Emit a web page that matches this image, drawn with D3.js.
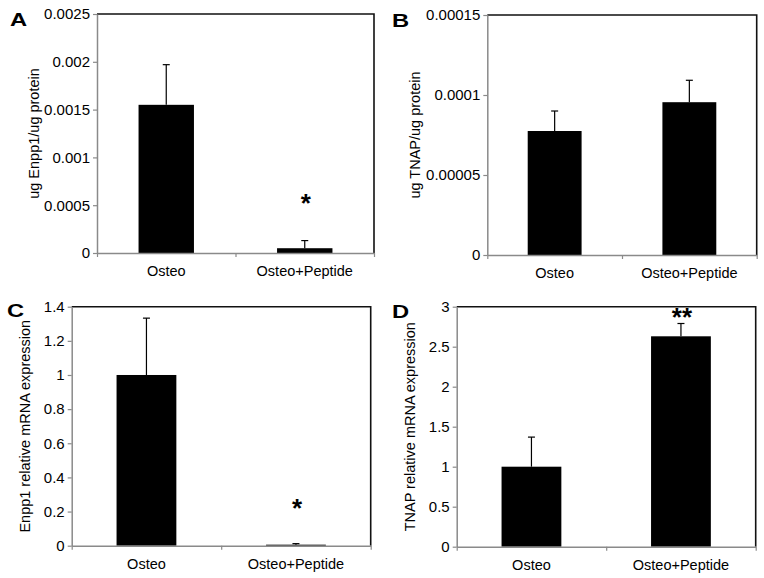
<!DOCTYPE html>
<html><head><meta charset="utf-8">
<script src="https://cdn.jsdelivr.net/npm/d3@7"></script>
<style>
html,body{margin:0;padding:0;background:#fff;}
svg{display:block;font-family:"Liberation Sans",Arial,sans-serif;}
</style></head>
<body>
<svg id="c" width="764" height="578"></svg>
<script>
const categories = ["Osteo", "Osteo+Peptide"];

const enppProtein = [0.00155, 0.00005];
const enppProteinErr = [0.00042, 0.00008];
const enppProteinTicks = [0, 0.0005, 0.001, 0.0015, 0.002, 0.0025];
const enppProteinTickLabels = ["0", "0.0005", "0.001", "0.0015", "0.002", "0.0025"];

const tnapProtein = [0.0000775, 0.0000955];
const tnapProteinErr = [0.0000125, 0.0000137];
const tnapProteinTicks = [0, 0.00005, 0.0001, 0.00015];
const tnapProteinTickLabels = ["0", "0.00005", "0.0001", "0.00015"];

const enppMrna = [1.0, 0.006];
const enppMrnaErr = [0.333, 0.006];
const enppMrnaTicks = [0, 0.2, 0.4, 0.6, 0.8, 1, 1.2, 1.4];
const enppMrnaTickLabels = ["0", "0.2", "0.4", "0.6", "0.8", "1", "1.2", "1.4"];

const tnapMrna = [1.0, 2.63];
const tnapMrnaErr = [0.37, 0.16];
const tnapMrnaTicks = [0, 0.5, 1, 1.5, 2, 2.5, 3];
const tnapMrnaTickLabels = ["0", "0.5", "1", "1.5", "2", "2.5", "3"];

const panelLetters = ["A", "B", "C", "D"];
const yTitles = ["ug Enpp1/ug protein", "ug TNAP/ug protein", "Enpp1 relative mRNA expression", "TNAP relative mRNA expression"];
const significance = [["", "*"], ["", ""], ["", "*"], ["", "**"]];

const panels = [
  {vals: enppProtein, errs: enppProteinErr, ticks: enppProteinTicks, tl: enppProteinTickLabels,
   x0: 97, x1: 374, y0: 14, y1: 253, titleX: 39, letterX: 10, letterY: 26, starY: [0, 212]},
  {vals: tnapProtein, errs: tnapProteinErr, ticks: tnapProteinTicks, tl: tnapProteinTickLabels,
   x0: 487.3, x1: 756.7, y0: 15, y1: 255, titleX: 420, letterX: 392, letterY: 27, starY: [0, 0]},
  {vals: enppMrna, errs: enppMrnaErr, ticks: enppMrnaTicks, tl: enppMrnaTickLabels,
   x0: 71.7, x1: 370.7, y0: 306.7, y1: 545.7, titleX: 30, letterX: 7, letterY: 317, starY: [0, 517]},
  {vals: tnapMrna, errs: tnapMrnaErr, ticks: tnapMrnaTicks, tl: tnapMrnaTickLabels,
   x0: 456.7, x1: 755.7, y0: 306.7, y1: 546.7, titleX: 415, letterX: 392, letterY: 318, starY: [0, 326]}
];

const svg = d3.select("#c");
const axisGray = "#8a8a8a";
const textCol = "#000";

panels.forEach((p, i) => {
  const g = svg.append("g");
  const y = d3.scaleLinear().domain([0, p.ticks[p.ticks.length - 1]]).range([p.y1, p.y0]);
  const x = d3.scaleBand().domain(categories).range([p.x0, p.x1]).padding(0);
  const xb = d3.scaleLinear().domain([0, categories.length]).range([p.x0, p.x1]);
  const bw = x.bandwidth() * 0.4;

  // top & right frame (black)
  g.append("path")
    .attr("d", `M${p.x0},${p.y0}H${p.x1}V${p.y1}`)
    .attr("fill", "none").attr("stroke", "#111").attr("stroke-width", 1.6);

  // bars
  g.selectAll("rect.bar").data(p.vals).join("rect")
    .attr("x", (d, k) => x.bandwidth() / 2 + x(categories[k]) - bw / 2)
    .attr("width", bw)
    .attr("y", d => y(d))
    .attr("height", d => y(0) - y(d))
    .attr("fill", "#000");

  // error bars (upper only)
  p.vals.forEach((v, k) => {
    const cx = x(categories[k]) + x.bandwidth() / 2;
    g.append("line").attr("x1", cx).attr("x2", cx).attr("y1", y(v)).attr("y2", y(v + p.errs[k]))
      .attr("stroke", "#000").attr("stroke-width", 1.2);
    g.append("line").attr("x1", cx - 3.5).attr("x2", cx + 3.5).attr("y1", y(v + p.errs[k])).attr("y2", y(v + p.errs[k]))
      .attr("stroke", "#000").attr("stroke-width", 1.2);
    const s = significance[i][k];
    if (s) {
      g.append("text").attr("x", cx + 1).attr("y", p.starY[k])
        .attr("text-anchor", "middle").attr("font-size", 26).attr("font-weight", "bold")
        .attr("fill", "#000").text(s);
    }
  });

  // y axis
  const ya = g.append("g").attr("transform", `translate(${p.x0},0)`)
    .call(d3.axisLeft(y).tickValues(p.ticks).tickFormat((d, k) => p.tl[k]).tickSize(4).tickSizeOuter(0).tickPadding(3));
  ya.select(".domain").attr("stroke", axisGray).attr("stroke-width", 1.5);
  ya.selectAll(".tick line").attr("stroke", axisGray).attr("stroke-width", 1.2);
  ya.selectAll(".tick text").attr("font-size", 15).attr("fill", textCol)
    .attr("font-family", "'Liberation Sans', Arial, sans-serif");

  // x axis: boundary ticks
  const xa = g.append("g").attr("transform", `translate(0,${p.y1})`)
    .call(d3.axisBottom(xb).tickValues(d3.range(categories.length + 1)).tickFormat("").tickSize(4).tickSizeOuter(0));
  xa.select(".domain").attr("stroke", axisGray).attr("stroke-width", 1.5);
  xa.selectAll(".tick line").attr("stroke", axisGray).attr("stroke-width", 1.2);

  // x axis: category labels
  const xl = g.append("g").attr("transform", `translate(0,${p.y1})`)
    .call(d3.axisBottom(x).tickSize(0).tickPadding(13));
  xl.select(".domain").remove();
  xl.selectAll(".tick text").attr("font-size", 14.5).attr("fill", textCol)
    .attr("font-family", "'Liberation Sans', Arial, sans-serif");

  // y title
  g.append("text")
    .attr("transform", `translate(${p.titleX},${(p.y0 + p.y1) / 2}) rotate(-90)`)
    .attr("text-anchor", "middle").attr("font-size", 14.5).attr("fill", textCol)
    .text(yTitles[i]);

  // panel letter
  g.append("text")
    .attr("transform", `translate(${p.letterX},${p.letterY}) scale(1.25,1)`)
    .attr("font-size", 19).attr("font-weight", "bold").attr("fill", "#000")
    .text(panelLetters[i]);
});
</script>
</body></html>
